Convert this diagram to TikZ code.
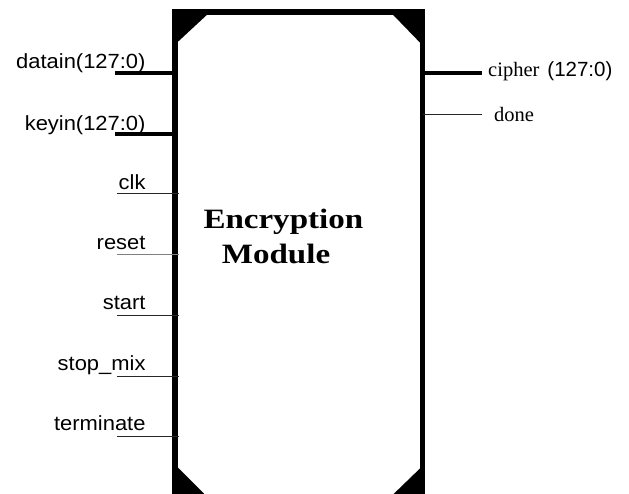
\documentclass[tikz,border=0pt]{standalone}
\usepackage{fontspec}
\setmainfont{Liberation Serif}
\newfontfamily\pinfont[FakeStretch=1.07]{Liberation Sans}
\newfontfamily\busfont{Liberation Sans}
\newfontfamily\titlefont[FakeStretch=1.18]{Liberation Serif}
\definecolor{wiregray}{HTML}{7F7F7F}
\definecolor{wiredark}{HTML}{262626}

\tikzset{
  modbox/.style={draw=black, line width=5.8pt, inner sep=0pt, outer sep=0pt,
                 minimum width=247.2pt, minimum height=484.8pt},
  buswire/.style={draw=black, line width=3.6pt},
  sigwire/.style={draw=wiredark, line width=1pt},
  inlabel/.style={anchor=base east, inner sep=0pt,
                  font=\pinfont\fontsize{20.5}{24}\selectfont},
  outlabel/.style={anchor=base west, inner sep=0pt,
                   font=\fontsize{20.5}{24}\selectfont},
  titletext/.style={anchor=base west, inner sep=0pt,
                    font=\titlefont\bfseries\fontsize{28}{32}\selectfont}
}

\begin{document}
\begin{tikzpicture}[x=1pt, y=-1pt]
  \useasboundingbox (0,0) rectangle (629,494);
  \clip (0,0) rectangle (629,494);

  % module body
  \node[modbox] (mod) at (298.9,254.6) {};

  % chamfered corners
  \fill (mod.north west) -- ++(34.5,0) -- ([yshift=-32pt]mod.north west) -- cycle;
  \fill (mod.north east) -- ++(-32,0) -- ([yshift=-33pt]mod.north east) -- cycle;
  \fill (mod.south west) -- ++(32,0) -- ([yshift=32pt]mod.south west) -- cycle;
  \fill (mod.south east) -- ++(-32,0) -- ([yshift=31pt]mod.south east) -- cycle;

  % title
  \node[titletext] (title1) at (203.3,228.3) {Encryption};
  \node[titletext] (title2) at (221.7,264) {Module};

  % input pins
  \coordinate (pdatain)    at (115,73.3);
  \coordinate (pkeyin)     at (115,134.3);
  \coordinate (pclk)       at (117,194);
  \coordinate (preset)     at (117,255);
  \coordinate (pstart)     at (117,315);
  \coordinate (pstopmix)   at (117,376);
  \coordinate (pterminate) at (117,436);

  \draw[buswire] (pdatain) -- ([xshift=3pt]pdatain -| mod.west);
  \draw[buswire] (pkeyin)  -- ([xshift=3pt]pkeyin -| mod.west);
  \draw[sigwire] (pclk) -- ([xshift=4pt]pclk -| mod.west);
  \draw[sigwire, draw=wiregray] (preset) -- ([xshift=4pt]preset -| mod.west);
  \draw[sigwire] (pstart) -- ([xshift=4pt]pstart -| mod.west);
  \draw[sigwire] (pstopmix) -- ([xshift=4pt]pstopmix -| mod.west);
  \draw[sigwire] (pterminate) -- ([xshift=4pt]pterminate -| mod.west);

  \node[inlabel] (ldatain)    at (145.7,68.3)  {datain(127:0)};
  \node[inlabel] (lkeyin)     at (145.7,130.7) {keyin(127:0)};
  \node[inlabel] (lclk)       at (145.7,189.3) {clk};
  \node[inlabel] (lreset)     at (145.7,250)   {reset};
  \node[inlabel] (lstart)     at (145.7,309.5) {start};
  \node[inlabel] (lstopmix)   at (145.7,370)   {stop\_mix};
  \node[inlabel] (lterminate) at (145.7,430.7) {terminate};

  % output pins
  \coordinate (pcipher) at (482,73.3);
  \coordinate (pdone)   at (482,115);
  \draw[buswire] (pcipher -| mod.east) -- (pcipher);
  \draw[sigwire] (pdone -| mod.east) -- (pdone);

  \node[outlabel] (lcipher) at (488,76.7) {cipher\hspace{8pt}{\busfont(127:0)}};
  \node[outlabel] (ldone)   at (494,121.7) {done};
\end{tikzpicture}
\end{document}
